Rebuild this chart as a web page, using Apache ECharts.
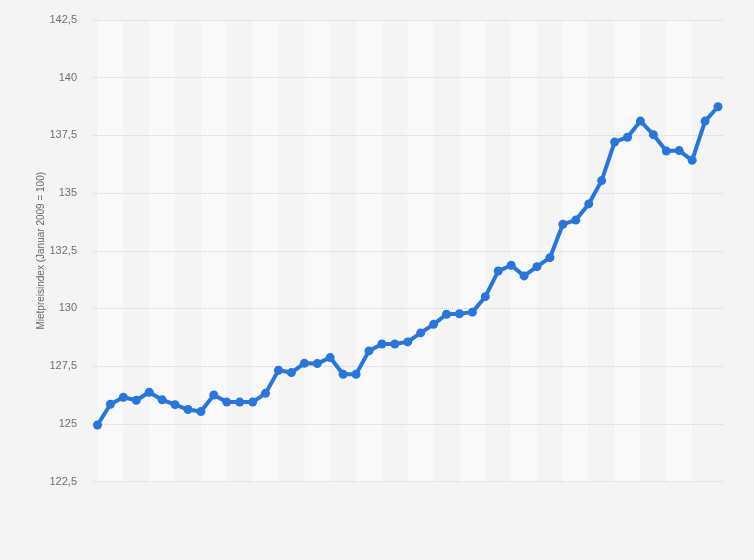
<!DOCTYPE html>
<html>
<head>
<meta charset="utf-8">
<script src="https://cdn.jsdelivr.net/npm/echarts@6/dist/echarts.min.js"></script>
<style>
  html, body { margin: 0; padding: 0; background: #f4f4f4; }
  #main { width: 754px; height: 560px; }
</style>
</head>
<body>
<div id="main"></div>
<script>
// monthly index values
const categories = [];
for (let i = 0; i < 49; i++) categories.push('M' + (i + 1));

const values = [
  124.95, 125.85, 126.15, 126.02, 126.37, 126.04, 125.83, 125.62, 125.53, 126.25,
  125.94, 125.94, 125.94, 126.32, 127.32, 127.22, 127.62, 127.61, 127.87, 127.15,
  127.15, 128.16, 128.46, 128.46, 128.55, 128.94, 129.31, 129.75, 129.77, 129.84,
  130.51, 131.62, 131.87, 131.41, 131.81, 132.2, 133.65, 133.83, 134.53, 135.54,
  137.21, 137.42, 138.12, 137.53, 136.82, 136.84, 136.42, 138.12, 138.74
];

const yMin = 122.5;
const yMax = 142.5;
const yStep = 2.5;
const yName = 'Mietpreisindex (Januar 2009 = 100)';

const chart = echarts.init(document.getElementById('main'), null, { renderer: 'canvas' });

const font = 'Liberation Sans, Arial, sans-serif';

chart.setOption({
  backgroundColor: '#f4f4f4',
  animation: false,
  grid: [
    // wide grid: gridlines and labels
    { left: 92, right: 30, top: 20, bottom: 78.5 },
    // data grid: bands and line
    { left: 97.5, right: 36, top: 20, bottom: 78.5 }
  ],
  xAxis: [
    {
      gridIndex: 0, type: 'category', data: categories, show: false
    },
    {
      gridIndex: 1, type: 'category', data: categories, boundaryGap: false,
      axisLine: { show: false }, axisTick: { show: false }, axisLabel: { show: false },
      splitLine: { show: false },
      splitArea: {
        show: true, interval: 1,
        areaStyle: { color: ['#f9f9f9', '#f4f4f4'] }
      }
    }
  ],
  yAxis: [
    {
      gridIndex: 0, type: 'value', min: yMin, max: yMax, interval: yStep, z: 2,
      name: yName, nameLocation: 'middle', nameGap: 46, nameMoveOverlap: false,
      nameTextStyle: { color: '#666', fontSize: 10, fontFamily: font },
      axisLine: { show: false }, axisTick: { show: false },
      axisLabel: {
        color: '#707070', fontSize: 11, fontFamily: font, margin: 15,
        formatter: v => String(v).replace('.', ',')
      },
      splitLine: { lineStyle: { color: '#d4d4d4', type: 'dotted', width: 1 } }
    },
    {
      gridIndex: 1, type: 'value', min: yMin, max: yMax, interval: yStep, show: false,
      splitLine: { show: false }
    }
  ],
  series: [
    {
      type: 'line', xAxisIndex: 1, yAxisIndex: 1, data: values, z: 5,
      symbol: 'circle', symbolSize: 9, showSymbol: true, showAllSymbol: true,
      lineStyle: { color: '#2876dd', width: 4 },
      itemStyle: { color: '#2876dd' }
    }
  ]
});
</script>
</body>
</html>
